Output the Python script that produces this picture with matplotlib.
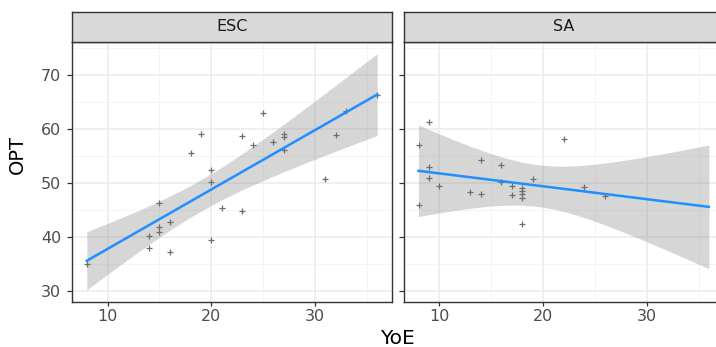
import math
import numpy as np
import matplotlib
matplotlib.use('Agg')
import matplotlib.pyplot as plt

plt.rcParams['font.family'] = ['DejaVu Sans']

# data
panels = ['ESC', 'SA']
esc_yoe = [8, 14, 14, 15, 15, 15, 16, 16, 18, 19, 20, 20, 20, 21, 23, 23, 24, 25,
           26, 27, 27, 27, 31, 32, 33, 36]
esc_opt = [35.0, 40.2, 38.0, 46.2, 41.8, 40.8, 42.7, 37.2, 55.6, 59.0, 52.3, 50.2, 39.4,
           45.3, 58.6, 44.8, 57.1, 63.0, 57.5, 59.0, 58.5, 56.0, 50.8, 58.8, 63.3, 66.3]
sa_yoe = [8, 8, 9, 9, 9, 10, 13, 14, 14, 16, 16, 17, 17, 18, 18, 18, 18, 18, 19, 22, 24, 26]
sa_opt = [57.0, 45.9, 61.3, 53.0, 50.9, 49.5, 48.3, 54.2, 48.0, 53.3, 50.2, 49.5, 47.8,
          49.0, 48.4, 48.0, 47.1, 42.4, 50.7, 58.2, 49.3, 47.6]
se_centre = [19.0, 19.5]     # YoE where the band is narrowest
se_at_centre = [1.42, 1.86]  # se of the fitted value there
se_slope = [0.200, 0.314]    # se of the slope
x_ticks = [10, 20, 30]
y_ticks = [30, 40, 50, 60, 70]

xs = [np.array(esc_yoe, float), np.array(sa_yoe, float)]
ys = [np.array(esc_opt, float), np.array(sa_opt, float)]


def t_quantile(df, p=0.975):
    c = math.gamma((df + 1) / 2) / (math.sqrt(df * math.pi) * math.gamma(df / 2))
    t = np.linspace(0, 10, 200001)
    pdf = c * (1 + t ** 2 / df) ** (-(df + 1) / 2)
    cdf = 0.5 + np.concatenate([[0], np.cumsum((pdf[1:] + pdf[:-1]) / 2 * np.diff(t))])
    return float(np.interp(p, cdf, t))


def smooth(i, grid):
    x, y = xs[i], ys[i]
    b, a = np.polyfit(x, y, 1)
    fit = a + b * grid
    se = np.sqrt(se_at_centre[i] ** 2 + (se_slope[i] * (grid - se_centre[i])) ** 2)
    tq = t_quantile(len(x) - 2)
    return fit, fit - tq * se, fit + tq * se


# full range of the shared x scale
xmin = min(x.min() for x in xs)
xmax = max(x.max() for x in xs)
grid = np.linspace(xmin, xmax, 80)
fits = [smooth(i, grid) for i in range(len(panels))]

ylo = min(min(y.min(), f[1].min()) for y, f in zip(ys, fits))
yhi = max(max(y.max(), f[2].max()) for y, f in zip(ys, fits))
xpad = (xmax - xmin) * 0.05
ypad = (yhi - ylo) * 0.05

W, H = 716, 347
fig = plt.figure(figsize=(W / 100, H / 100), dpi=100)
fig.patch.set_facecolor('white')

pw = 319.4 / W
ph = 260.0 / H
pb = 45.3 / H
lefts = [72.3 / W, 404.0 / W]
sh = 30.0 / H

axes = []
for i, name in enumerate(panels):
    ax = fig.add_axes([lefts[i], pb, pw, ph])
    axes.append(ax)
    ax.set_xlim(xmin - xpad, xmax + xpad)
    ax.set_ylim(ylo - ypad, yhi + ypad)
    ax.set_xticks(x_ticks)
    ax.set_xticks([15, 25, 35], minor=True)
    ax.set_yticks(y_ticks)
    ax.set_yticks([35, 45, 55, 65, 75], minor=True)
    ax.grid(True, which='major', color='#EBEBEB', linewidth=1.1, zorder=0)
    ax.grid(True, which='minor', color='#F2F2F2', linewidth=0.6, zorder=0)
    ax.set_axisbelow(True)
    for sp in ax.spines.values():
        sp.set_color('#333333')
        sp.set_linewidth(1.0)
    ax.tick_params(which='major', color='#333333', width=0.9,
                   labelsize=11.5, labelcolor='#4D4D4D')
    ax.tick_params(axis='x', which='major', length=2.9, pad=2.5)
    ax.tick_params(axis='y', which='major', length=3.6, pad=4.5)
    ax.tick_params(which='minor', length=0)
    if i > 0:
        ax.tick_params(labelleft=False)

    fit, lo, hi = fits[i]
    ax.fill_between(grid, lo, hi, color='#999999', alpha=0.4, linewidth=0, zorder=2)
    ax.plot(xs[i], ys[i], linestyle='none', marker='+', markersize=4.5,
            markeredgewidth=0.9, color='#6E6E6E', zorder=3)
    ax.plot(grid, fit, color='#1E8FFF', linewidth=1.8, zorder=4)

    # facet strip
    st = fig.add_axes([lefts[i], pb + ph, pw, sh])
    st.set_facecolor('#D9D9D9')
    st.set_xticks([])
    st.set_yticks([])
    for sp in st.spines.values():
        sp.set_color('#333333')
        sp.set_linewidth(1.0)
    st.text(0.5, 0.5, name, ha='center', va='center', fontsize=11.5,
            color='#1A1A1A', transform=st.transAxes)

axes[0].set_ylabel('OPT', fontsize=14, color='black')
axes[0].yaxis.set_label_coords((27 - 72.3) / 319.4, 0.565)
fig.text((72.3 + 723.4) / 2 / W, 9 / H, 'YoE', ha='center', va='center',
         fontsize=14.5, color='black')

fig.savefig('out.png', dpi=100)
